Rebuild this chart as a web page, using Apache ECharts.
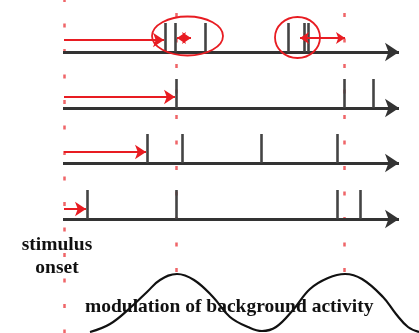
<!DOCTYPE html>
<html>
<head>
<meta charset="utf-8">
<script src="https://cdn.jsdelivr.net/npm/echarts@6/dist/echarts.min.js"></script>
<style>
  html, body { margin: 0; padding: 0; background: #fff; }
  #chart { width: 419px; height: 333px; }
</style>
</head>
<body>
<div id="chart"></div>
<script>
// diagram units: x runs left to right, y runs top to bottom
const trainBaselines = [52, 108, 163, 219];
const spikeTimes = [
    [165, 175, 205, 288, 304, 308],
    [176, 344, 373],
    [147, 182, 261, 337],
    [87, 176, 337, 360]
];
const spikeHeight = 29;
const onsetX = 63;
const axisEndX = 399;
// latency arrows: from onset to first spike
const latencyEnds = [164, 175, 146, 86];
const latencyY = [40, 97, 152, 209];
// small arrows inside the circled groups: [x1, x2, y]
const jitterArrows = [[177, 191, 38], [300, 345, 38]];
// red dashed reference lines
const refLineX = [64, 176, 344];
const refLineEnd = [333, 274, 273];
// circled spike groups: [cx, cy, rx, ry]
const ellipses = [[187.5, 36, 35.5, 19.5], [297.5, 37.5, 22.5, 20.5]];
// background modulation curve
const waveX = [90, 110, 130, 147, 160, 177, 194, 213, 230, 248, 262, 276, 293, 310, 328, 345, 362, 383, 396, 408, 419];
const waveY = [332, 324, 308, 292, 280, 274, 280, 297, 317, 327, 331, 327, 310, 289, 278, 274, 279, 297, 314, 327, 332];

const RED = '#e81c22';
const DARK = '#333';

const chart = echarts.init(document.getElementById('chart'));

const axisLines = trainBaselines.map(y => ({ coords: [[onsetX, y], [axisEndX, y]] }));
const spikeLines = [];
spikeTimes.forEach((times, i) => {
    times.forEach(t => {
        spikeLines.push({ coords: [[t, trainBaselines[i]], [t, trainBaselines[i] - spikeHeight]] });
    });
});
const latencyLines = latencyEnds.map((x, i) => ({ coords: [[onsetX + 1, latencyY[i]], [x, latencyY[i]]] }));
const jitterLines = jitterArrows.map(a => ({ coords: [[a[0], a[2]], [a[1], a[2]]] }));
const dashPhase = [2, 12.5, 12.5];
const refLines = refLineX.map((x, i) => ({
    coords: [[x, 0], [x, refLineEnd[i]]],
    lineStyle: { dashOffset: dashPhase[i] }
}));

const option = {
    animation: false,
    backgroundColor: '#fff',
    grid: { left: 0, right: 0, top: 0, bottom: 0 },
    xAxis: { type: 'value', min: 0, max: 419, show: false },
    yAxis: { type: 'value', min: 0, max: 333, inverse: true, show: false },
    series: [
        {
            type: 'lines',
            coordinateSystem: 'cartesian2d',
            z: 1,
            symbol: 'none',
            lineStyle: { color: '#ec4a4e', width: 2.5, type: [4, 21.5], opacity: 0.85 },
            data: refLines
        },
        {
            type: 'line',
            smooth: 0.4,
            symbol: 'none',
            z: 2,
            lineStyle: { color: '#111', width: 2.2 },
            data: waveX.map((x, i) => [x, waveY[i]])
        },
        {
            type: 'lines',
            coordinateSystem: 'cartesian2d',
            z: 3,
            symbol: ['none', 'arrow'],
            symbolSize: 14,
            lineStyle: { color: DARK, width: 3, opacity: 1 },
            data: axisLines
        },
        {
            type: 'lines',
            coordinateSystem: 'cartesian2d',
            z: 3,
            symbol: 'none',
            lineStyle: { color: '#444', width: 2.6, opacity: 1 },
            data: spikeLines
        },
        {
            type: 'lines',
            coordinateSystem: 'cartesian2d',
            z: 4,
            symbol: ['none', 'arrow'],
            symbolSize: 11,
            lineStyle: { color: RED, width: 2, opacity: 1 },
            data: latencyLines
        },
        {
            type: 'lines',
            coordinateSystem: 'cartesian2d',
            z: 4,
            symbol: ['arrow', 'arrow'],
            symbolSize: 9,
            lineStyle: { color: RED, width: 2, opacity: 1 },
            data: jitterLines
        },
        {
            type: 'custom',
            z: 5,
            renderItem: (params, api) => {
                const c = api.coord([api.value(0), api.value(1)]);
                const s = api.size([api.value(2), api.value(3)]);
                return {
                    type: 'ellipse',
                    shape: { cx: c[0], cy: c[1], rx: s[0], ry: s[1] },
                    style: { fill: 'none', stroke: RED, lineWidth: 1.8 }
                };
            },
            data: ellipses
        }
    ],
    graphic: [
        {
            type: 'text', x: 57, y: 256, z: 10,
            style: {
                text: 'stimulus\nonset', textAlign: 'center', textVerticalAlign: 'middle',
                font: 'bold 19.5px "Liberation Serif"', fill: '#111', lineHeight: 23
            }
        },
        {
            type: 'text', x: 85, y: 307, z: 10,
            style: {
                text: 'modulation of background activity', textAlign: 'left', textVerticalAlign: 'middle',
                font: 'bold 19.5px "Liberation Serif"', fill: '#111'
            }
        }
    ]
};

chart.setOption(option);
</script>
</body>
</html>
